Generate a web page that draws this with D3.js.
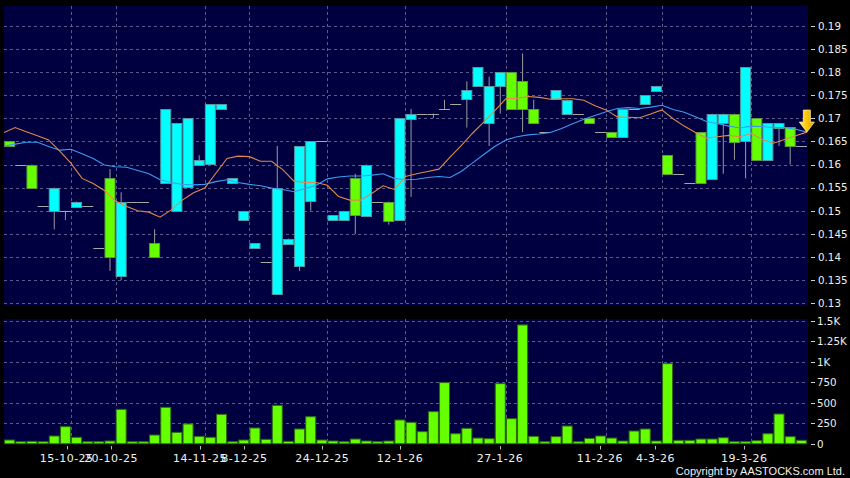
<!DOCTYPE html>
<html><head><meta charset="utf-8">
<script src="https://cdn.jsdelivr.net/npm/d3@7/dist/d3.min.js"></script>
<style>html,body{margin:0;padding:0;background:#000;} svg{display:block;}</style>
</head><body>
<svg id="c" width="850" height="478"></svg>
<script>
// ---- data ----
const opens  = [0.165,0.160,0.160,0.151,0.150,0.150,0.151,0.151,0.142,0.157,0.136,0.152,0.152,0.143,0.156,0.150,0.155,0.160,0.160,0.172,
                0.156,0.148,0.142,0.139,0.132,0.143,0.138,0.152,0.165,0.148,0.148,0.157,0.149,0.152,0.152,0.148,0.170,0.171,0.171,0.172,
                0.173,0.174,0.177,0.169,0.177,0.180,0.178,0.172,0.167,0.174,0.171,0.171,0.170,0.167,0.167,0.166,0.172,0.173,0.176,0.162,
                0.158,0.156,0.167,0.157,0.169,0.171,0.165,0.170,0.161,0.168,0.168,0.164];
const highs  = [0.165,0.160,0.160,0.151,0.155,0.150,0.152,0.151,0.142,0.159,0.154,0.152,0.152,0.146,0.172,0.169,0.170,0.162,0.173,0.173,
                0.157,0.150,0.143,0.139,0.164,0.144,0.164,0.165,0.165,0.149,0.150,0.158,0.160,0.152,0.152,0.170,0.172,0.171,0.171,0.174,
                0.173,0.178,0.181,0.179,0.180,0.180,0.184,0.174,0.167,0.176,0.174,0.171,0.170,0.167,0.167,0.172,0.172,0.175,0.177,0.162,
                0.158,0.156,0.167,0.171,0.171,0.171,0.181,0.170,0.169,0.169,0.168,0.164];
const lows   = [0.164,0.160,0.155,0.151,0.146,0.148,0.151,0.151,0.142,0.137,0.135,0.152,0.152,0.140,0.156,0.150,0.155,0.160,0.160,0.172,
                0.156,0.148,0.142,0.139,0.132,0.143,0.137,0.150,0.165,0.148,0.148,0.145,0.149,0.152,0.147,0.148,0.153,0.171,0.170,0.172,
                0.173,0.168,0.177,0.164,0.171,0.172,0.167,0.169,0.167,0.174,0.171,0.171,0.169,0.167,0.166,0.166,0.172,0.173,0.176,0.158,
                0.158,0.156,0.156,0.157,0.158,0.161,0.157,0.161,0.161,0.164,0.160,0.164];
const closes = [0.164,0.160,0.155,0.151,0.155,0.150,0.152,0.151,0.142,0.140,0.152,0.152,0.152,0.140,0.172,0.169,0.170,0.161,0.173,0.173,
                0.157,0.150,0.143,0.139,0.155,0.144,0.164,0.165,0.165,0.149,0.150,0.149,0.160,0.152,0.148,0.170,0.171,0.171,0.171,0.172,
                0.173,0.176,0.181,0.177,0.180,0.172,0.172,0.169,0.167,0.176,0.174,0.171,0.169,0.167,0.166,0.172,0.172,0.175,0.177,0.158,
                0.158,0.156,0.156,0.171,0.171,0.165,0.181,0.161,0.169,0.169,0.164,0.164];
const volumes = [45,20,29,20,94,208,78,16,20,33,420,16,16,106,445,139,241,90,78,359,
                 12,45,192,53,469,29,180,330,45,33,12,57,33,20,33,290,261,147,392,747,
                 122,188,69,61,734,306,1452,90,20,86,216,12,65,94,69,33,155,180,33,979,
                 41,41,57,57,73,24,24,37,122,363,86,41];
// moving averages: first value is the session just before the window
const maFast = [0.1669,0.1680,0.1671,0.1662,0.1653,0.1629,0.1603,0.1570,0.1559,0.1544,0.1521,0.1509,0.1500,0.1497,0.1486,0.1502,0.1523,0.1539,0.1549,0.1581,
                0.1613,0.1618,0.1617,0.1607,0.1607,0.1589,0.1564,0.1561,0.1561,0.1555,0.1531,0.1523,0.1523,0.1538,0.1554,0.1546,0.1574,0.1580,0.1585,0.1590,
                0.1616,0.1641,0.1667,0.1691,0.1716,0.1742,0.1743,0.1747,0.1745,0.1741,0.1742,0.1742,0.1739,0.1727,0.1718,0.1703,0.1702,0.1701,0.1709,0.1718,
                0.1699,0.1683,0.1669,0.1657,0.1660,0.1663,0.1660,0.1667,0.1654,0.1646,0.1654,0.1662,0.1670];
const maSlow = [0.1640,0.1644,0.1648,0.1648,0.1639,0.1631,0.1633,0.1623,0.1613,0.1599,0.1595,0.1594,0.1587,0.1580,0.1567,0.1561,0.1557,0.1556,0.1557,0.1563,
                0.1567,0.1561,0.1557,0.1554,0.1549,0.1546,0.1541,0.1548,0.1555,0.1569,0.1573,0.1575,0.1575,0.1577,0.1580,0.1570,0.1567,0.1568,0.1572,0.1574,
                0.1572,0.1585,0.1603,0.1621,0.1639,0.1653,0.1660,0.1664,0.1666,0.1669,0.1678,0.1688,0.1698,0.1706,0.1714,0.1721,0.1723,0.1721,0.1724,0.1728,
                0.1719,0.1713,0.1703,0.1693,0.1688,0.1683,0.1679,0.1683,0.1682,0.1680,0.1680,0.1676,0.1670];
const dateLabels = ["15-10-25","20-10-25","14-11-25","8-12-25","24-12-25","12-1-26","27-1-26","11-2-26","4-3-26","19-3-26"];
const dateIndex  = [5,9,17,21,28,35,44,53,58,66];
const priceTicks = [0.13,0.135,0.14,0.145,0.15,0.155,0.16,0.165,0.17,0.175,0.18,0.185,0.19];
const priceTickLabels = ["0.13","0.135","0.14","0.145","0.15","0.155","0.16","0.165","0.17","0.175","0.18","0.185","0.19"];
const volTicks = [0,250,500,750,1000,1250,1500];
const volTickLabels = ["0","250","500","750","1K","1.25K","1.5K"];

// ---- layout ----
const svg = d3.select("#c");
const P = {l:4, r:808, t:6, b:306};
const V = {l:4, r:808, t:319, b:444};
const n = closes.length;
const x = d3.scaleLinear().domain([-1, n]).range([4, 807 + 11]);   // point = right edge of slot
const xT = d3.scaleLinear().domain([-1, 72]).range([0, 811]);
const yP = d3.scaleLinear().domain([0.13, 0.19]).range([303.3, 25.7]);
const yV = d3.scaleLinear().domain([0, 1500]).range([443.7, 321]);
const crisp = v => Math.round(v) + 0.5;

svg.append("rect").attr("width",850).attr("height",478).attr("fill","#000");
svg.append("rect").attr("x",P.l).attr("y",P.t).attr("width",P.r-P.l).attr("height",P.b-P.t).attr("fill","#000040");
svg.append("rect").attr("x",V.l).attr("y",V.t).attr("width",V.r-V.l).attr("height",V.b-V.t).attr("fill","#000040");

const gridCol = "#5c5c8c";
const g = svg.append("g").attr("stroke",gridCol).attr("stroke-dasharray","3,3").attr("stroke-width",1);
// horizontal grid
g.selectAll(".hp").data(priceTicks).join("line")
  .attr("x1",P.l).attr("x2",P.r).attr("y1",d=>crisp(yP(d))).attr("y2",d=>crisp(yP(d)));
g.selectAll(".hv").data(volTicks.filter(d=>d>0)).join("line")
  .attr("x1",V.l).attr("x2",V.r).attr("y1",d=>crisp(yV(d))).attr("y2",d=>crisp(yV(d)));
// vertical grid
dateIndex.forEach(i=>{
  g.append("line").attr("x1",crisp(x(i))).attr("x2",crisp(x(i))).attr("y1",P.t).attr("y2",P.b);
  g.append("line").attr("x1",crisp(x(i))).attr("x2",crisp(x(i))).attr("y1",V.t).attr("y2",V.b);
});

// ---- candles ----
const candles = d3.range(n).map(i=>({i,o:opens[i],h:highs[i],l:lows[i],c:closes[i]}));
const cg = svg.append("g");
// wicks
cg.selectAll(".wick").data(candles.filter(d=>d.h>d.l)).join("line")
  .attr("x1",d=>x(d.i)-5.5).attr("x2",d=>x(d.i)-5.5)
  .attr("y1",d=>yP(d.h)).attr("y2",d=>yP(d.l))
  .attr("stroke","#9a9a9a").attr("stroke-width",1);
// doji
cg.selectAll(".doji").data(candles.filter(d=>d.o===d.c)).join("line")
  .attr("x1",d=>x(d.i)-11).attr("x2",d=>d.i===n-1 ? P.r-1 : x(d.i))
  .attr("y1",d=>crisp(yP(d.c))).attr("y2",d=>crisp(yP(d.c)))
  .attr("stroke","#a8a8a8").attr("stroke-width",1);
// bodies
cg.selectAll(".body").data(candles.filter(d=>d.o!==d.c)).join("rect")
  .attr("x",d=>x(d.i)-10.5).attr("width",10)
  .attr("y",d=>crisp(yP(Math.max(d.o,d.c))))
  .attr("height",d=>Math.max(1,Math.round(yP(Math.min(d.o,d.c))-yP(Math.max(d.o,d.c)))))
  .attr("fill",d=>d.c>d.o ? "#00ffff" : "#66ff00")
  .attr("stroke",d=>d.c>d.o ? "#4f9aa3" : "#5a9a3a").attr("stroke-width",1);

// ---- moving averages ----
const clip = svg.append("clipPath").attr("id","pc").append("rect")
  .attr("x",P.l).attr("y",P.t).attr("width",P.r-P.l).attr("height",P.b-P.t);
const line = d3.line().x((d,k)=>x(k-1)).y(d=>yP(d));
svg.append("path").datum(maSlow).attr("d",line).attr("fill","none")
  .attr("stroke","#3a9cf0").attr("stroke-width",1.1).attr("clip-path","url(#pc)");
svg.append("path").datum(maFast).attr("d",line).attr("fill","none")
  .attr("stroke","#e0884e").attr("stroke-width",1.1).attr("clip-path","url(#pc)");

// ---- arrow at last value ----
const defs = svg.append("defs");
const grad = defs.append("linearGradient").attr("id","ag").attr("x1",0).attr("x2",1).attr("y1",0).attr("y2",0);
grad.append("stop").attr("offset","0%").attr("stop-color","#ffe866");
grad.append("stop").attr("offset","50%").attr("stop-color","#ffc800");
grad.append("stop").attr("offset","100%").attr("stop-color","#e09a00");
const ax = x(n-1), ay = yP(maFast[maFast.length-1]);
svg.append("path")
  .attr("transform",`translate(${ax},${ay})`)
  .attr("d","M0,0 L-7.5,-10 L-3.5,-10 L-3.5,-22 L3.5,-22 L3.5,-10 L7.5,-10 Z")
  .attr("fill","url(#ag)").attr("stroke","#fff3b0").attr("stroke-width",0.8);

// ---- volume ----
svg.append("g").selectAll("rect").data(volumes).join("rect")
  .attr("x",(d,i)=>x(i)-10.5).attr("width",10)
  .attr("y",d=>Math.min(yV(d), yV(0)-2))
  .attr("height",d=>Math.max(2, yV(0)-yV(d)))
  .attr("fill","#66ff00").attr("stroke","#2c6a10").attr("stroke-width",1);

// ---- axes text ----
const font = "'DejaVu Sans', Verdana, sans-serif";
const ya = svg.append("g");
priceTicks.forEach((v,k)=>{
  ya.append("line").attr("x1",811).attr("x2",815).attr("y1",crisp(yP(v))).attr("y2",crisp(yP(v))).attr("stroke","#cfcfcf");
  ya.append("text").attr("x",818).attr("y",yP(v)+3.8).text(priceTickLabels[k])
    .attr("fill","#eeeeee").attr("font-family",font).attr("font-size",10.3);
});
volTicks.forEach((v,k)=>{
  ya.append("line").attr("x1",811).attr("x2",815).attr("y1",crisp(yV(v))).attr("y2",crisp(yV(v))).attr("stroke","#cfcfcf");
  ya.append("text").attr("x",817).attr("y",yV(v)+3.8).text(volTickLabels[k])
    .attr("fill","#eeeeee").attr("font-family",font).attr("font-size",10.3);
});
dateIndex.forEach((i,k)=>{
  svg.append("line").attr("x1",crisp(xT(i))).attr("x2",crisp(xT(i))).attr("y1",446).attr("y2",449.5).attr("stroke","#bbbbbb");
  svg.append("text").attr("x",xT(i)).attr("y",461.5).attr("text-anchor","middle").text(dateLabels[k])
    .attr("fill","#f0f0f0").attr("font-family",font).attr("font-size",11).attr("letter-spacing","0.5px");
});
svg.append("text").attr("x",845).attr("y",475).attr("text-anchor","end")
  .text("Copyright by AASTOCKS.com Ltd.")
  .attr("fill","#f0f0f0").attr("font-family","'Liberation Sans', Arial, sans-serif").attr("font-size",11);
</script>
</body></html>
